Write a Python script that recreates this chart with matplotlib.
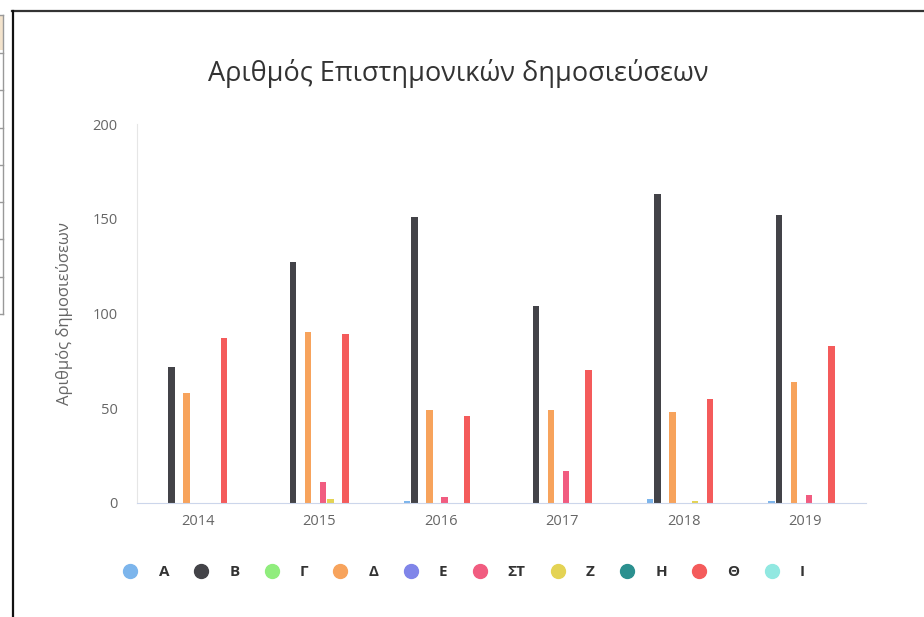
import matplotlib
matplotlib.use("Agg")
from matplotlib import pyplot as plt
from matplotlib.lines import Line2D
from matplotlib.patches import Rectangle
import numpy as np

plt.rcParams['font.family'] = ['Open Sans', 'Noto Sans', 'DejaVu Sans']

years = ["2014", "2015", "2016", "2017", "2018", "2019"]
series_names = ["Α", "Β", "Γ", "Δ", "Ε", "ΣΤ", "Ζ", "Η", "Θ", "Ι"]
colors = ["#7cb5ec", "#434348", "#90ed7d", "#f7a35c", "#8085e9",
          "#f15c80", "#e4d354", "#2b908f", "#f45b5b", "#91e8e1"]

A = [0, 0, 1, 0, 2, 1]
B = [72, 127, 151, 104, 163, 152]
G = [0, 0, 0, 0, 0, 0]
D = [58, 90, 49, 49, 48, 64]
E = [0, 0, 0, 0, 0, 0]
ST = [0, 11, 3, 17, 0, 4]
Z = [0, 2, 0, 0, 1, 0]
H = [0, 0, 0, 0, 0, 0]
TH = [87, 89, 46, 70, 55, 83]
I = [0, 0, 0, 0, 0, 0]
values = [A, B, G, D, E, ST, Z, H, TH, I]

W, Hh = 924, 617
fig = plt.figure(figsize=(W / 100, Hh / 100), dpi=100)

# screenshot frame
fig.add_artist(Line2D([12 / W, 1], [1 - 11 / Hh, 1 - 11 / Hh], color="#333333", lw=1.6))
fig.add_artist(Line2D([12.5 / W, 12.5 / W], [0, 1 - 11 / Hh], color="#111111", lw=1.6))
# bit of a table at the left edge
fig.add_artist(Rectangle((0, 1 - 50 / Hh), 3 / W, 35 / Hh, color="#f3e3cc", lw=0))
fig.add_artist(Line2D([2.5 / W, 2.5 / W], [1 - 314 / Hh, 1 - 15 / Hh], color="#999999", lw=1))
for yy in [15, 53, 90, 128, 165, 202, 239, 277, 314]:
    fig.add_artist(Line2D([0, 3 / W], [1 - yy / Hh, 1 - yy / Hh], color="#999999", lw=1))

ax = fig.add_axes([137 / W, 1 - 503 / Hh, (866 - 137) / W, (503 - 124) / Hh])

x = np.arange(len(years))
slot = 0.0617
for j, (name, vals) in enumerate(zip(series_names, values)):
    ax.bar(x + (j - 4.5) * slot, vals, width=slot * 0.9, color=colors[j], label=name)

ax.set_xlim(-0.5, len(years) - 0.5)
ax.set_ylim(0, 200)
ax.set_yticks([0, 50, 100, 150, 200])
ax.set_xticks(x)
ax.set_xticklabels(years)
ax.tick_params(axis="both", length=0, colors="#666666", labelsize=10.5)
ax.tick_params(axis="y", pad=14)
ax.tick_params(axis="x", pad=8)
for s in ["top", "right"]:
    ax.spines[s].set_visible(False)
ax.spines["bottom"].set_color("#ccd6eb")
ax.spines["left"].set_color("#e6e6e6")
ax.set_ylabel("Αριθμός δημοσιεύσεων", color="#666666", fontsize=12, labelpad=14)

fig.text(458 / W, 1 - 73 / Hh, "Αριθμός Επιστημονικών δημοσιεύσεων",
         ha="center", va="center", fontsize=19.5, color="#333333")

handles = [Line2D([], [], marker="o", ls="", markersize=10, color=c) for c in colors]
fig.legend(handles, series_names, loc="center", bbox_to_anchor=(460 / W, 1 - 572 / Hh),
           ncol=10, frameon=False, handletextpad=0.85, columnspacing=1.1,
           prop={"weight": "bold", "size": 11}, labelcolor="#333333")

fig.savefig("out.png", dpi=100)
